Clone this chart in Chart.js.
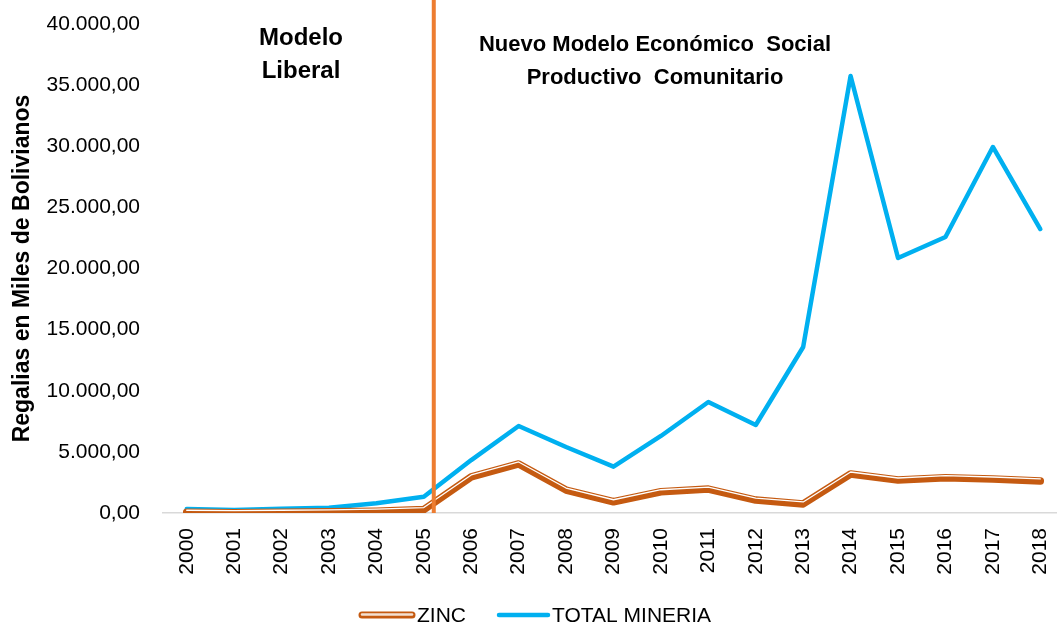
<!DOCTYPE html>
<html>
<head>
<meta charset="utf-8">
<script src="https://cdn.jsdelivr.net/npm/chart.js@4.4.1/dist/chart.umd.min.js"></script>
<style>
  html, body { margin: 0; padding: 0; background: #fff; overflow: hidden; }
  #c { position: absolute; left: 0; top: 0; }
</style>
</head>
<body>
<canvas id="c" width="1070" height="628" style="width:1070px;height:628px"></canvas>
<script>
const years = ['2000','2001','2002','2003','2004','2005','2006','2007','2008','2009','2010','2011','2012','2013','2014','2015','2016','2017','2018'];
const zinc = [60, 30, 60, 100, 150, 280, 2950, 4010, 1880, 920, 1740, 1960, 1060, 740, 3190, 2700, 2890, 2780, 2620];
const totalMineria = [330, 250, 350, 430, 790, 1330, 4330, 7120, 5400, 3790, 6300, 9080, 7200, 13580, 35750, 20860, 22580, 29940, 23230];
const seriesNames = ['ZINC', 'TOTAL MINERIA'];
const yTicks = [0, 5000, 10000, 15000, 20000, 25000, 30000, 35000, 40000];
const yTitle = 'Regalias en Miles de Bolivianos';
const periodLeft = ['Modelo', 'Liberal'];
const periodRight = ['Nuevo Modelo Económico  Social', 'Productivo  Comunitario'];
const dividerPos = 5.21; // position between 2005 and 2006 (category index units)

const FONT = '"Liberation Sans", Arial, sans-serif';
const ZINC_COLOR = '#C55A11';
const BLUE = '#00B0F0';
const DIVIDER = '#ED7D31';

function fmt(v) {
  const s = Math.round(v).toString().replace(/\B(?=(\d{3})+(?!\d))/g, '.');
  return s + ',00';
}

const decorPlugin = {
  id: 'decor',
  afterDatasetsDraw(chart) {
    const ctx = chart.ctx;
    const meta = chart.getDatasetMeta(0);
    const pts = meta.data;
    ctx.save();
    ctx.lineJoin = 'round';
    ctx.lineCap = 'round';
    ctx.beginPath();
    pts.forEach((p, i) => { if (i === 0) ctx.moveTo(p.x, p.y - 2.0); else ctx.lineTo(p.x, p.y - 2.0); });
    ctx.strokeStyle = '#ffffff';
    ctx.lineWidth = 1.3;
    ctx.stroke();
    ctx.restore();

    const xs = chart.scales.x;
    const ys = chart.scales.y;
    const x = xs.getPixelForValue(dividerPos);
    ctx.save();
    ctx.strokeStyle = DIVIDER;
    ctx.lineWidth = 4;
    ctx.beginPath();
    ctx.moveTo(x, 0);
    ctx.lineTo(x, ys.getPixelForValue(0));
    ctx.stroke();
    ctx.restore();
  },
  afterDraw(chart) {
    const ctx = chart.ctx;
    ctx.save();
    ctx.fillStyle = '#000';
    ctx.textAlign = 'center';
    ctx.textBaseline = 'middle';
    ctx.font = 'bold 24px ' + FONT;
    ctx.fillText(periodLeft[0], 301, 38);
    ctx.fillText(periodLeft[1], 301, 71);
    ctx.font = 'bold 22px ' + FONT;
    ctx.fillText(periodRight[0], 655, 45);
    ctx.fillText(periodRight[1], 655, 78);

    const ly = 615;
    ctx.lineCap = 'round';
    ctx.strokeStyle = ZINC_COLOR;
    ctx.lineWidth = 7;
    ctx.beginPath(); ctx.moveTo(362, ly); ctx.lineTo(412, ly); ctx.stroke();
    ctx.strokeStyle = '#F4E1D2';
    ctx.lineWidth = 2.5;
    ctx.beginPath(); ctx.moveTo(362, ly - 0.5); ctx.lineTo(412, ly - 0.5); ctx.stroke();
    ctx.strokeStyle = BLUE;
    ctx.lineWidth = 4.5;
    ctx.beginPath(); ctx.moveTo(499, ly); ctx.lineTo(548, ly); ctx.stroke();
    ctx.fillStyle = '#000';
    ctx.font = '21px ' + FONT;
    ctx.textAlign = 'left';
    ctx.fillText(seriesNames[0], 417, ly + 1);
    ctx.fillText(seriesNames[1], 552, ly + 1);
    ctx.restore();
  }
};

new Chart(document.getElementById('c'), {
  type: 'line',
  data: {
    labels: years,
    datasets: [
      { label: seriesNames[0], data: zinc, borderColor: ZINC_COLOR, borderWidth: 7.5, pointRadius: 0,
        borderJoinStyle: 'round', borderCapStyle: 'round', tension: 0, fill: false },
      { label: seriesNames[1], data: totalMineria, borderColor: BLUE, borderWidth: 4.5, pointRadius: 0,
        borderJoinStyle: 'round', borderCapStyle: 'round', tension: 0, fill: false }
    ]
  },
  options: {
    responsive: false,
    maintainAspectRatio: false,
    animation: false,
    devicePixelRatio: 1,
    layout: { padding: { top: 24, right: 6, bottom: 0, left: 0 } },
    plugins: { legend: { display: false }, tooltip: { enabled: false } },
    scales: {
      x: {
        offset: true,
        grid: { display: false, drawTicks: false },
        border: { display: true, color: '#D9D9D9', width: 1.5 },
        ticks: { color: '#000', font: { family: FONT, size: 21 }, minRotation: 90, maxRotation: 90, padding: 15, autoSkip: false },
        afterFit(s) { s.height = 115; s.paddingLeft = 0; s.paddingRight = 0; }
      },
      y: {
        min: 0, max: 40000,
        afterBuildTicks(s) { s.ticks = yTicks.map(v => ({ value: v })); },
        grid: { display: false, drawTicks: false },
        border: { display: false },
        ticks: { color: '#000', font: { family: FONT, size: 21 }, padding: 23, callback: v => fmt(v) },
        title: { display: true, text: yTitle, color: '#000', font: { family: FONT, size: 23, weight: 'bold' }, padding: { top: 9, bottom: 0 } },
        afterFit(s) { s.width = 163; s.paddingTop = 0; s.paddingBottom = 0; }
      }
    }
  },
  plugins: [decorPlugin]
});
</script>
</body>
</html>
